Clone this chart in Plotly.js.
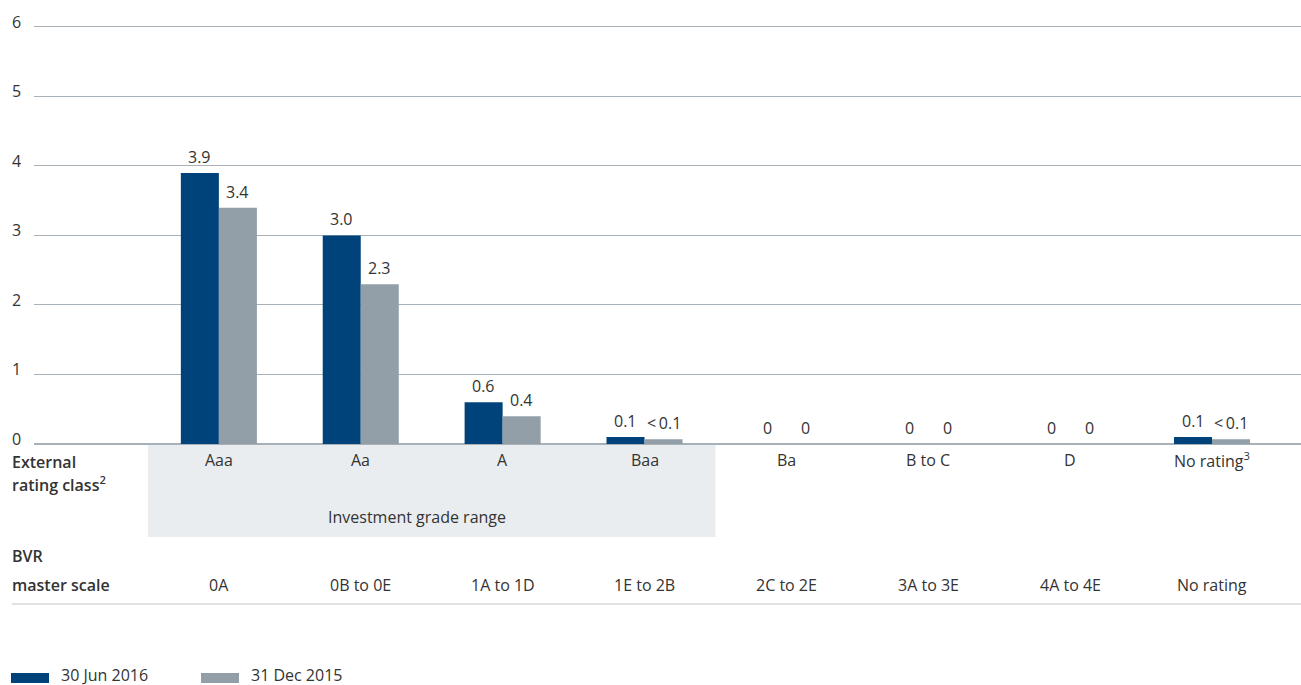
<!DOCTYPE html>
<html>
<head>
<meta charset="utf-8">
<script src="https://cdn.plot.ly/plotly-3.0.1.min.js"></script>
<style>html,body{margin:0;padding:0;background:#fff;}#chart{width:1301px;height:685px;}</style>
</head>
<body>
<div id="chart"></div>
<script>
const categories = ['Aaa', 'Aa', 'A', 'Baa', 'Ba', 'B to C', 'D', 'No rating'];
const ratingTickText = ['Aaa', 'Aa', 'A', 'Baa', 'Ba', 'B to C', 'D', 'No rating<sup>3</sup>'];
const masterScale = ['0A', '0B to 0E', '1A to 1D', '1E to 2B', '2C to 2E', '3A to 3E', '4A to 4E', 'No rating'];
const jun2016 = [3.9, 3.0, 0.6, 0.1, 0, 0, 0, 0.1];
const dec2015 = [3.4, 2.3, 0.4, 0.07, 0, 0, 0, 0.07];
const jun2016Labels = ['3.9', '3.0', '0.6', '0.1', '0', '0', '0', '0.1'];
const dec2015Labels = ['3.4', '2.3', '0.4', '&lt;&#8201;0.1', '0', '0', '0', '&lt;&#8201;0.1'];
const yTicks = [0, 1, 2, 3, 4, 5, 6];
const seriesNames = ['30 Jun 2016', '31 Dec 2015'];
const investmentGrade = ['Aaa', 'Baa'];

const BLUE = '#00437A';
const GREY = '#939FA8';
const TEXT = '#333333';
const FONT = '"Open Sans", Roboto, Arial, sans-serif';
const FS = 16;

// pixel helpers for layout geometry
const W = 1301, H = 685, ML = 34, MR = 0, MB = 241;
const YMAX = 6.1, UNIT = 69.5;
const PH = YMAX * UNIT, MT = H - MB - PH;
const PW = W - ML - MR;
const px = x => (x - ML) / PW;
const py = y => (H - MB - y) / PH;

const traces = [
  {type: 'bar', x: categories, y: jun2016, name: seriesNames[0], marker: {color: BLUE}, hoverinfo: 'x+y'},
  {type: 'bar', x: categories, y: dec2015, name: seriesNames[1], marker: {color: GREY}, hoverinfo: 'x+y'}
];

const annotations = [];
const shapes = [];
const f = (extra) => Object.assign({family: FONT, size: FS, color: TEXT}, extra || {});

// y tick labels (left, above gridline)
yTicks.forEach(v => annotations.push({
  xref: 'paper', yref: 'y', x: px(10), y: v, xanchor: 'left', yanchor: 'middle', yshift: 5,
  text: String(v), showarrow: false, font: f()
}));

// value labels above bars
const halfBar = 19;
categories.forEach((c, i) => {
  annotations.push({xref: 'x', yref: 'y', x: c, y: jun2016[i], xshift: -halfBar, yshift: 16,
    xanchor: 'center', yanchor: 'middle', text: jun2016Labels[i], showarrow: false, font: f()});
  annotations.push({xref: 'x', yref: 'y', x: c, y: dec2015[i], xshift: halfBar, yshift: 16,
    xanchor: 'center', yanchor: 'middle', text: dec2015Labels[i], showarrow: false, font: f()});
  // rating class row
  annotations.push({xref: 'x', yref: 'paper', x: c, y: py(460), xanchor: 'center', yanchor: 'middle',
    text: ratingTickText[i], showarrow: false, font: f()});
  // master scale row
  annotations.push({xref: 'x', yref: 'paper', x: c, y: py(585), xanchor: 'center', yanchor: 'middle',
    text: masterScale[i], showarrow: false, font: f()});
});

// row headers
[['External', 462], ['rating class<sup>2</sup>', 484], ['BVR', 556], ['master scale', 585]].forEach(([t, y]) =>
  annotations.push({xref: 'paper', yref: 'paper', x: px(10), y: py(y), xanchor: 'left', yanchor: 'middle',
    text: t, showarrow: false, font: f({weight: 600})}));

// investment grade band
const i0 = categories.indexOf(investmentGrade[0]);
const i1 = categories.indexOf(investmentGrade[1]);
shapes.push({type: 'rect', xref: 'x', yref: 'paper', x0: i0 - 0.5, x1: i1 + 0.5, y0: py(444), y1: py(537),
  fillcolor: '#E9EDF0', line: {width: 0}, layer: 'below'});
annotations.push({xref: 'x', yref: 'paper', x: (i0 + i1) / 2, y: py(517), xshift: -15, xanchor: 'center', yanchor: 'middle',
  text: 'Investment grade range', showarrow: false, font: f()});

// bottom rule
shapes.push({type: 'line', xref: 'paper', yref: 'paper', x0: px(12), x1: 1, y0: py(604), y1: py(604),
  line: {color: '#C0C6CC', width: 1.2}});

// custom legend
[[11, 61, BLUE, seriesNames[0]], [201, 251, GREY, seriesNames[1]]].forEach(([x0, tx, col, name]) => {
  shapes.push({type: 'rect', xref: 'paper', yref: 'paper', x0: px(x0), x1: px(x0 + 38), y0: py(683), y1: py(673),
    fillcolor: col, line: {width: 0}});
  annotations.push({xref: 'paper', yref: 'paper', x: px(tx - 2), y: py(675), xanchor: 'left', yanchor: 'middle',
    text: name, showarrow: false, font: f()});
});

const layout = {
  width: W, height: H,
  margin: {l: ML, r: MR, t: MT, b: MB, pad: 0},
  paper_bgcolor: '#ffffff', plot_bgcolor: '#ffffff',
  font: {family: FONT, size: FS, color: TEXT},
  barmode: 'group', bargap: 0.464, bargroupgap: 0,
  showlegend: false,
  xaxis: {type: 'category', range: [-1.303, 7.627], showticklabels: false, ticks: '',
    showgrid: false, zeroline: false, showline: false, fixedrange: true},
  yaxis: {range: [0, YMAX], tickvals: yTicks, showticklabels: false, ticks: '',
    showgrid: true, gridcolor: '#A9B1B8', gridwidth: 1, zeroline: true, zerolinecolor: '#A9B1B8',
    zerolinewidth: 1.2, showline: false, fixedrange: true},
  shapes: shapes,
  annotations: annotations
};

Plotly.newPlot('chart', traces, layout, {displayModeBar: false, staticPlot: true});
</script>
</body>
</html>
